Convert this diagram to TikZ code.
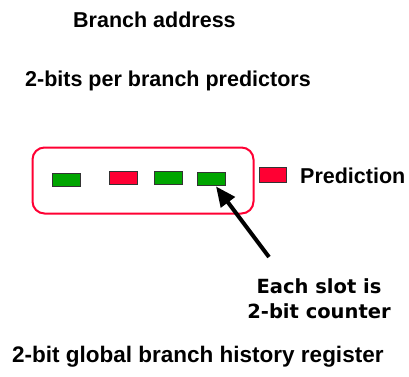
\documentclass[tikz,border=0pt]{standalone}
\usepackage{fontspec}
\setmainfont{Liberation Sans}
\newfontfamily\comicfont{DejaVu Sans}
\usetikzlibrary{arrows.meta}
\definecolor{slotgreen}{RGB}{0,165,0}
\definecolor{slotred}{RGB}{255,0,51}
\begin{document}
\begin{tikzpicture}[x=1pt,y=-1pt,
  lbl/.style={font=\fontsize{21.5}{26}\selectfont\bfseries, inner sep=0pt, anchor=base west},
  comic/.style={font=\comicfont\fontsize{19.5}{26}\selectfont\bfseries, inner sep=0pt, anchor=base},
  slot/.style={draw=black!80, line width=0.8pt, minimum width=28pt, minimum height=13pt, inner sep=0pt},
  tablebox/.style={draw=slotred, line width=2pt, rounded corners=12pt, minimum width=221pt, minimum height=66pt, inner sep=0pt},
  pointer/.style={-{Triangle[length=20pt,width=17pt]}, line width=4pt}]
\useasboundingbox (0,0) rectangle (409,376);
\node[lbl] (addr) at (73,27) {Branch address};
\node[lbl] (pred) at (25,86) {2-bits per branch predictors};
\node[tablebox] (table) at (143,180.5) {};
\node[slot, fill=slotgreen] (s1) at (66.5,179.5) {};
\node[slot, fill=slotred] (s2) at (123,178) {};
\node[slot, fill=slotgreen] (s3) at (168,178) {};
\node[slot, fill=slotgreen] (s4) at (211,178.5) {};
\node[slot, fill=slotred, minimum width=27pt, minimum height=15pt] (leg) at (272.5,174.5) {};
\node[lbl] (legtext) at (300,183) {Prediction};
\node[comic] (note1) at (319,293) {Each slot is};
\node[comic] (note2) at (319,318) {2-bit counter};
\coordinate (tail) at (269,257);
\draw[pointer] (tail) -- ([xshift=5pt,yshift=-1pt]s4.south);
\node[lbl, font=\fontsize{22.5}{26}\selectfont\bfseries] (hist) at (12,362) {2-bit global branch history register};
\end{tikzpicture}
\end{document}
